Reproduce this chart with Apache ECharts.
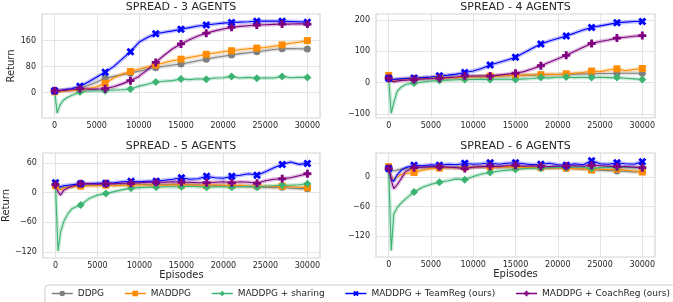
<!DOCTYPE html>
<html><head><meta charset="utf-8">
<script src="https://cdn.jsdelivr.net/npm/echarts@6/dist/echarts.min.js"></script>
<style>html,body{margin:0;padding:0;background:#fff}#c{width:673px;height:302px}</style>
</head><body><div id="c"></div>
<script>
// ---------- data ----------
const episodes = [0,300,600,1000,1500,2000,
  3000,4000,5000,6000,7000,8000,9000,10000,11000,12000,
  13000,14000,15000,16000,17000,18000,19000,20000,21000,22000,
  23000,24000,25000,26000,27000,28000,29000,30000];
const xTicks = [0,5000,10000,15000,20000,25000,30000];
const seriesNames = ['DDPG','MADDPG','MADDPG + sharing','MADDPG + TeamReg (ours)','MADDPG + CoachReg (ours)'];
const titles = ['SPREAD - 3 AGENTS','SPREAD - 4 AGENTS','SPREAD - 5 AGENTS','SPREAD - 6 AGENTS'];
const yTicks3 = [0,80,160];
const yTicks4 = [-100,0,100,200];
const yTicks5 = [-120,-60,0,60];
const yTicks6 = [-120,-60,0];

// SPREAD - 3 agents
const ddpg3     = [5,5,6,8,9,10, 14,22,33,44,50,55,60,66,72,77, 81,85,88,93,98,103,108,112,116,120, 123,126,129,133,135,136,135,134];
const maddpg3   = [3,3,4,5,6,7, 9,12,18,29,45,57,65,72,79,85, 92,98,103,108,113,118,122,126,129,132, 135,137,139,143,147,152,155,160];
const sharing3  = [6,-63,-40,-24,-15,-9, 2,5,6,6,8,9,11,20,26,33, 35,37,42,40,43,41,45,46,50,45, 47,44,46,45,50,46,47,47];
const teamreg3  = [6,5,7,8,10,12, 20,33,48,63,80,103,126,155,170,181, 186,190,195,200,205,208,211,214,216,217, 218,220,220,220,220,219,218,217];
const coachreg3 = [6,4,6,7,8,9, 12,11,11,12,18,27,37,50,70,93, 115,135,150,163,174,183,190,196,201,204, 206,208,209,210,211,211,212,211];

// SPREAD - 4 agents
const ddpg4     = [14,10,9,10,11,12, 13,14,15,16,17,17,18,19,20,20, 21,22,23,23,24,25,25,26,27,27, 28,28,29,29,30,30,30,30];
const maddpg4   = [23,10,8,9,10,11, 12,13,14,15,15,16,17,18,19,20, 21,22,22,24,25,25,27,26,28,30, 32,37,35,40,44,38,42,45];
const sharing4  = [14,-98,-65,-28,-14,-6, -1,2,5,7,8,9,10,10,11,10, 11,11,10,12,13,16,15,17,18,16, 17,16,17,16,16,14,12,10];
const teamreg4  = [14,9,10,11,12,13, 15,16,18,22,24,27,32,37,45,56, 64,72,81,95,110,123,133,141,149,158, 168,176,181,186,191,193,195,195];
const coachreg4 = [14,6,3,5,7,8, 10,12,13,14,16,18,21,21,21,21, 24,27,30,35,44,54,65,76,87,100, 113,125,131,136,142,145,148,150];

// SPREAD - 5 agents
const ddpg5     = [15,10,9,11,12,13, 14,15,15,16,15,16,16,17,16,17, 16,17,16,17,15,15,14,15,14,13, 12,12,11,10,11,9,8,8];
const maddpg5   = [14,8,6,9,11,12, 13,14,14,15,14,15,15,16,15,16, 15,16,15,16,15,14,16,15,14,15, 13,14,13,12,13,12,11,10];
const sharing5  = [18,-118,-80,-58,-42,-32, -25,-12,-5,-2,2,6,9,10,11,11, 12,12,12,13,12,11,12,12,11,12, 13,11,13,14,15,15,16,18];
const teamreg5  = [20,10,12,14,15,16, 18,18,19,19,20,22,23,22,23,23, 25,27,30,27,28,33,30,29,33,35, 38,35,42,50,57,62,57,59];
const coachreg5 = [16,2,-5,5,10,13, 18,18,17,18,18,19,19,20,21,21, 21,22,21,21,20,20,21,22,20,22, 21,19,24,27,28,30,34,38];

// SPREAD - 6 agents
const ddpg6     = [18,15,13,15,17,18, 19,20,20,21,20,21,20,21,22,21, 22,21,22,21,20,20,19,20,19,18, 17,16,15,14,13,12,11,12];
const maddpg6   = [22,0,-5,2,6,8, 10,15,18,19,20,20,21,21,22,22, 21,22,21,20,21,20,19,20,19,18, 17,15,17,16,17,15,13,11];
const sharing6  = [18,-150,-75,-62,-52,-44, -30,-20,-14,-10,-7,-3,-5,2,7,10, 13,15,16,18,19,19,20,21,20,21, 21,18,20,21,20,21,20,20];
const teamreg6  = [18,-2,-8,5,15,20, 25,24,26,25,27,26,29,27,28,30, 27,29,30,28,26,27,29,26,25,28, 26,34,28,27,30,28,27,32];
const coachreg6 = [18,-5,-23,-15,-2,12, 20,21,22,22,21,20,18,21,22,23, 22,24,25,23,24,23,22,23,23,24, 23,25,24,23,22,22,21,20];

// ---------- layout / style ----------
const FONT = 'DejaVu Sans';
const TXT = '#262626';
const colors = ['#808080','#ff8c00','#3cb371','#0000ff','#800080'];
const symbols = ['circle','rect','diamond',
  'path://M0,2.5 L2.5,0 L5,2.5 L7.5,0 L10,2.5 L7.5,5 L10,7.5 L7.5,10 L5,7.5 L2.5,10 L0,7.5 L2.5,5 Z',
  'path://M3.2,0 H6.8 V3.2 H10 V6.8 H6.8 V10 H3.2 V6.8 H0 V3.2 H3.2 Z'];
const symSizes = [7,7,8,8,8];

const panels = [
  {title: titles[0], data: [ddpg3,maddpg3,sharing3,teamreg3,coachreg3], yMin: -78, yMax: 242, yTicks: yTicks3,
   grid: {left: 42, top: 14, width: 278, height: 104}, yName: 'Return', xName: ''},
  {title: titles[1], data: [ddpg4,maddpg4,sharing4,teamreg4,coachreg4], yMin: -113, yMax: 219, yTicks: yTicks4,
   grid: {left: 376, top: 14, width: 279, height: 104}, yName: '', xName: ''},
  {title: titles[2], data: [ddpg5,maddpg5,sharing5,teamreg5,coachreg5], yMin: -132, yMax: 80, yTicks: yTicks5,
   grid: {left: 42, top: 153, width: 278, height: 105}, yName: 'Return', xName: 'Episodes'},
  {title: titles[3], data: [ddpg6,maddpg6,sharing6,teamreg6,coachreg6], yMin: -163, yMax: 50, yTicks: yTicks6,
   grid: {left: 376, top: 153, width: 279, height: 104}, yName: '', xName: 'Episodes'}
];

const fmt = v => String(v).replace('-', '\u2212');

const grids = [], xAxes = [], yAxes = [], graphics = [], mainSeries = [], bandSeries = [];
panels.forEach((p, i) => {
  grids.push(Object.assign({show: true, borderColor: '#d4d4d4', borderWidth: 1.2, backgroundColor: '#fff'}, p.grid));
  graphics.push({type: 'text', x: p.grid.left + p.grid.width / 2, y: p.grid.top - 6.5,
    style: {text: p.title, align: 'center', verticalAlign: 'middle', fontSize: 11, fill: TXT, fontFamily: FONT}});
  xAxes.push({gridIndex: i, type: 'value', min: -1500, max: 31500,
    axisLine: {show: false}, axisTick: {show: false, customValues: xTicks},
    axisLabel: {customValues: xTicks, fontSize: 8, color: TXT, fontFamily: FONT, margin: 4, formatter: v => String(v)},
    splitLine: {show: true, lineStyle: {color: '#e4e4e4', width: 1}},
    name: p.xName, nameLocation: 'middle', nameGap: 12,
    nameTextStyle: {fontSize: 10, color: TXT, fontFamily: FONT}});
  yAxes.push({gridIndex: i, type: 'value', min: p.yMin, max: p.yMax,
    axisLine: {show: false}, axisTick: {show: false, customValues: p.yTicks},
    axisLabel: {customValues: p.yTicks, fontSize: 8, color: TXT, fontFamily: FONT, margin: 6, formatter: fmt},
    splitLine: {show: true, lineStyle: {color: '#e4e4e4', width: 1}},
    name: p.yName, nameLocation: 'middle', nameGap: 24, nameRotate: 90,
    nameTextStyle: {fontSize: 10, color: TXT, fontFamily: FONT}});
  p.data.forEach((vals, s) => {
    const pts = vals.map((v, k) => [episodes[k], v]);
    mainSeries.push({
      type: 'line', name: seriesNames[s], xAxisIndex: i, yAxisIndex: i, z: 3,
      data: pts.map(pt => pt[0] % 3000 === 0 ? {value: pt} : {value: pt, symbol: 'none'}),
      symbol: symbols[s], symbolSize: symSizes[s], showAllSymbol: true,
      itemStyle: {color: colors[s]}, lineStyle: {color: colors[s], width: 1.1},
      emphasis: {disabled: true}, animation: false
    });
    bandSeries.push({
      type: 'line', name: seriesNames[s], xAxisIndex: i, yAxisIndex: i, z: 2, silent: true,
      data: pts, symbol: 'none', itemStyle: {color: colors[s]},
      lineStyle: {color: colors[s], width: 4, opacity: 0.25},
      emphasis: {disabled: true}, animation: false
    });
  });
});

const chart = echarts.init(document.getElementById('c'), null, {renderer: 'canvas'});
chart.setOption({
  animation: false,
  backgroundColor: '#fff',
  graphic: graphics,
  grid: grids,
  xAxis: xAxes,
  yAxis: yAxes,
  tooltip: {show: false},
  legend: {
    data: seriesNames, left: 45, top: 285, width: 640, padding: [4, 6, 8, 6],
    itemWidth: 21, itemHeight: 7, itemGap: 20,
    lineStyle: {width: 1.5, opacity: 1},
    borderColor: '#cccccc', borderWidth: 1, borderRadius: 3,
    textStyle: {fontSize: 9, color: TXT, fontFamily: FONT},
    selectedMode: false
  },
  series: mainSeries.concat(bandSeries)
});
</script>
</body></html>
